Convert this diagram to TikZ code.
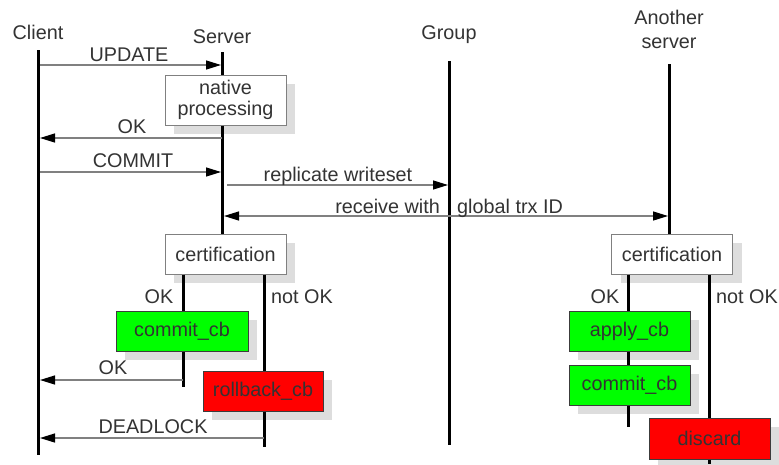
\documentclass[tikz,border=0pt]{standalone}
\usepackage{fontspec}
\setmainfont{Liberation Sans}
\usetikzlibrary{arrows.meta,shadows}
\definecolor{txt}{HTML}{333333}
\definecolor{msg}{HTML}{808080}
\definecolor{cbord}{HTML}{3C3C3C}
\definecolor{gbox}{HTML}{00FF00}
\definecolor{rbox}{HTML}{FF0000}
\definecolor{shd}{HTML}{DDDDDD}
\begin{document}
\begin{tikzpicture}[x=1pt,y=-1pt,
  every node/.style={text=txt,font=\fontsize{19.8}{22}\selectfont},
  life/.style={line width=3pt,black},
  msgline/.style={line width=1.3pt,draw=msg,-{Triangle[length=15pt,width=9pt,color=black]}},
  msgboth/.style={line width=1.3pt,draw=msg,{Triangle[length=15pt,width=9pt,color=black]}-{Triangle[length=15pt,width=9pt,color=black]}},
  box/.style={draw=msg,line width=1pt,inner sep=0pt,align=center,
    general shadow={fill=shd,shadow xshift=9pt,shadow yshift=-8.5pt}},
  wbox/.style={box,fill=white},
  gbx/.style={box,fill=gbox,draw=cbord},
  rbx/.style={box,fill=rbox,draw=cbord},
  lbl/.style={inner sep=0pt,anchor=base}
]
\useasboundingbox (0,0) rectangle (779,464);
\fill[white] (0,0) rectangle (779,464);
% headings
\node[lbl] (hclient) at (38,39) {Client};
\node[lbl] (hserver) at (222,43) {Server};
\node[lbl] (hgroup) at (449,39) {Group};
\node[lbl] (hanother1) at (669,24) {Another};
\node[lbl] (hanother2) at (669,48) {server};
% lifeline coordinates
\coordinate (clT) at (38,50);  \coordinate (clB) at (38,455);
\coordinate (svT) at (222,52);
\coordinate (grT) at (449,61); \coordinate (grB) at (449,445);
\coordinate (anT) at (669,64);
% lifelines
\draw[life] (clT) -- (clB);
\draw[life] (grT) -- (grB);
% boxes
\node[wbox,minimum width=121pt,minimum height=50pt] (native) at (225.5,100) {native\\[-1pt]processing};
\node[wbox,minimum width=121pt,minimum height=40pt] (cert1) at (225.5,254) {certification};
\node[wbox,minimum width=121pt,minimum height=40pt] (cert2) at (672,254) {certification};
\draw[life] (svT) -- (svT |- native.north);
\draw[life] (svT |- native.south) -- (svT |- cert1.north);
\draw[life] (anT) -- (anT |- cert2.north);
\node[gbx,minimum width=132pt,minimum height=40pt] (commit1) at (182,331) {commit\_cb};
\node[rbx,minimum width=120pt,minimum height=40pt] (rollback) at (263,391) {rollback\_cb};
\node[gbx,minimum width=121pt,minimum height=40pt] (apply) at (629.5,331) {apply\_cb};
\node[gbx,minimum width=121pt,minimum height=40pt] (commit2) at (629.5,385) {commit\_cb};
\node[rbx,minimum width=121pt,minimum height=41pt] (discard) at (709.5,438.5) {discard};
% branch coordinates
\coordinate (okS) at (183,387);
\coordinate (nokS) at (264,447);
\coordinate (okA) at (628,427);
\coordinate (nokA) at (709,464);
% branches, server
\draw[life] (okS |- cert1.south) -- (okS |- commit1.north);
\draw[life] (okS |- commit1.south) -- (okS);
\draw[life] (nokS |- cert1.south) -- (nokS |- rollback.north);
\draw[life] (nokS |- rollback.south) -- (nokS);
% branches, another server
\draw[life] (okA |- cert2.south) -- (okA |- apply.north);
\draw[life] (okA |- apply.south) -- (okA |- commit2.north);
\draw[life] (okA |- commit2.south) -- (okA);
\draw[life] (nokA |- cert2.south) -- (nokA |- discard.north);
\draw[life] (nokA |- discard.south) -- (nokA);
% messages
\coordinate (m1a) at (40,65);  \coordinate (m1b) at (221,65);
\draw[msgline] (m1a) -- (m1b);
\node[lbl] (lupdate) at (129,61) {UPDATE};
\coordinate (m2a) at (222,138); \coordinate (m2b) at (40,138);
\draw[msgline] (m2a) -- (m2b);
\node[lbl] (lok1) at (132,133) {OK};
\coordinate (m3a) at (40,172);  \coordinate (m3b) at (221,172);
\draw[msgline] (m3a) -- (m3b);
\node[lbl] (lcommit) at (133,167) {COMMIT};
\coordinate (m4a) at (227,185); \coordinate (m4b) at (448,185);
\draw[msgline] (m4a) -- (m4b);
\node[lbl] (lrep) at (338,181) {replicate writeset};
\coordinate (m5a) at (224,216); \coordinate (m5b) at (668,216);
\draw[msgboth] (m5a) -- (m5b);
\node[lbl,anchor=base east] (lrecv) at (440,213) {receive with};
\node[lbl,anchor=base west] (lgtid) at (457,213) {global trx ID};
\coordinate (m6a) at (183,380); \coordinate (m6b) at (40,380);
\draw[msgline] (m6a) -- (m6b);
\node[lbl] (lok2) at (113,374) {OK};
\coordinate (m7a) at (264,438); \coordinate (m7b) at (40,438);
\draw[msgline] (m7a) -- (m7b);
\node[lbl] (ldead) at (153,433) {DEADLOCK};
% branch labels
\node[lbl] (bok1) at (159,303) {OK};
\node[lbl] (bnok1) at (302,303) {not OK};
\node[lbl] (bok2) at (605,303) {OK};
\node[lbl] (bnok2) at (747,303) {not OK};
\end{tikzpicture}
\end{document}
